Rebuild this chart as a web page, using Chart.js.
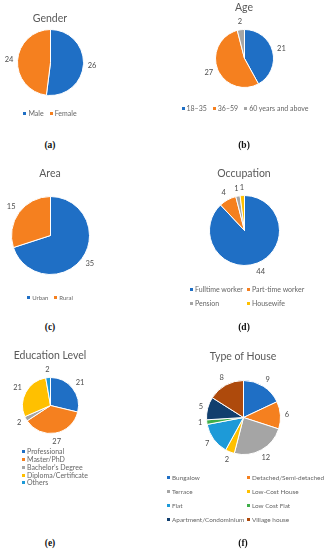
<!DOCTYPE html>
<html>
<head>
<meta charset="utf-8">
<script src="https://cdn.jsdelivr.net/npm/chart.js@4.4.0/dist/chart.umd.min.js"></script>
<style>
html, body { margin: 0; padding: 0; background: #fff; }
body { width: 330px; height: 550px; position: relative; overflow: hidden; font-family: Lato, 'Open Sans', sans-serif; }
canvas { position: absolute; }
.ttl { position: absolute; width: 160px; text-align: center; color: #595959; font-size: 10.5px; line-height: 12px; }
.cap { position: absolute; width: 40px; text-align: center; font-family: 'Liberation Serif', serif; font-weight: bold; font-size: 9.5px; line-height: 10px; color: #111; }
.lg { position: absolute; color: #666; font-size: 7px; line-height: 8px; white-space: nowrap; }
.lg i { display: inline-block; width: 3px; height: 3px; margin-right: 2px; vertical-align: middle; position: relative; top: -1px; }
.lg span { margin: 0 3px; }
</style>
</head>
<body>
<script>
// data
var genderLabels = ['Male', 'Female'];
var genderValues = [26, 24];
var ageLabels = ['18–35', '36–59', '60 years and above'];
var ageValues = [21, 27, 2];
var areaLabels = ['Urban', 'Rural'];
var areaValues = [35, 15];
var occupationLabels = ['Fulltime worker', 'Part-time worker', 'Pension', 'Housewife'];
var occupationValues = [44, 4, 1, 1];
var educationLabels = ['Professional', 'Master/PhD', 'Bachelor’s Degree', 'Diploma/Certificate', 'Others'];
var educationValues = [21, 27, 2, 21, 2];
var houseLabels = ['Bungalow', 'Detached/Semi-detached', 'Terrace', 'Low-Cost House', 'Flat', 'Low Cost Flat', 'Apartment/Condominium', 'Village house'];
var houseValues = [9, 6, 12, 2, 7, 1, 5, 8];

var palette = ['#1f6fc5', '#f5801f', '#a5a5a5', '#ffc000', '#1d9ad8', '#3fae49', '#123f6e', '#ae4a0c'];

// layout of each panel
var panels = [
	{ title: 'Gender', labels: genderLabels, values: genderValues, cap: '(a)', cx: 50, cy: 62, r: 33, ty: 18, capY: 145,
		legend: { type: 'row', x: 50, y: 113 } },
	{ title: 'Age', labels: ageLabels, values: ageValues, cap: '(b)', cx: 244, cy: 58, r: 29, ty: 7, capY: 145,
		legend: { type: 'row', x: 245, y: 108 } },
	{ title: 'Area', labels: areaLabels, values: areaValues, cap: '(c)', cx: 50, cy: 235, r: 39, ty: 173, capY: 327,
		legend: { type: 'row', x: 50, y: 298, size: 6 } },
	{ title: 'Occupation', labels: occupationLabels, values: occupationValues, cap: '(d)', cx: 244, cy: 230, r: 35, ty: 173, capY: 327,
		legend: { type: 'grid', cols: [191, 248], rows: [289, 303] } },
	{ title: 'Education Level', labels: educationLabels, values: educationValues, cap: '(e)', cx: 50, cy: 405, r: 28, ty: 355, capY: 543,
		legend: { type: 'grid', cols: [23], rows: [451, 459, 467, 475, 482] } },
	{ title: 'Type of House', labels: houseLabels, values: houseValues, cap: '(f)', cx: 243, cy: 417, r: 37, ty: 356, capY: 543,
		legend: { type: 'grid', cols: [168, 248], rows: [478, 492, 506, 520], size: 6.4 } }
];

// value labels outside each slice
var valueLabels = {
	id: 'valueLabels',
	afterDatasetsDraw: function (chart) {
		var ctx = chart.ctx;
		var meta = chart.getDatasetMeta(0);
		var values = chart.data.datasets[0].data;
		ctx.save();
		ctx.font = '7.5px Lato';
		ctx.fillStyle = '#4d4d4d';
		ctx.textAlign = 'center';
		ctx.textBaseline = 'middle';
		meta.data.forEach(function (arc, i) {
			var p = arc.getProps(['x', 'y', 'startAngle', 'endAngle', 'outerRadius'], true);
			var mid = (p.startAngle + p.endAngle) / 2;
			var txt = String(values[i]);
			var w = ctx.measureText(txt).width;
			var d = p.outerRadius + 4 + Math.abs(Math.cos(mid)) * w / 2 + Math.abs(Math.sin(mid)) * 3.5;
			ctx.fillText(txt, p.x + Math.cos(mid) * d, p.y + Math.sin(mid) * d);
		});
		ctx.restore();
	}
};

function addDiv(cls, html, left, top) {
	var d = document.createElement('div');
	d.className = cls;
	d.innerHTML = html;
	d.style.left = left + 'px';
	d.style.top = top + 'px';
	document.body.appendChild(d);
	return d;
}

panels.forEach(function (p) {
	var pad = 24;
	var size = 2 * p.r + 1 + 2 * pad;
	var canvas = document.createElement('canvas');
	canvas.width = size;
	canvas.height = size;
	canvas.style.left = (p.cx - size / 2) + 'px';
	canvas.style.top = (p.cy - size / 2) + 'px';
	document.body.appendChild(canvas);

	new Chart(canvas, {
		type: 'pie',
		data: {
			labels: p.labels,
			datasets: [{
				data: p.values,
				backgroundColor: palette.slice(0, p.values.length),
				borderColor: '#fff',
				borderWidth: 1,
				hoverOffset: 0
			}]
		},
		options: {
			responsive: false,
			animation: false,
			layout: { padding: pad },
			plugins: { legend: { display: false }, tooltip: { enabled: false } }
		},
		plugins: [valueLabels]
	});

	addDiv('ttl', p.title, p.cx - 80, p.ty - 6);
	addDiv('cap', p.cap, p.cx - 20, p.capY - 5);

	var lg = p.legend;
	if (lg.type === 'row') {
		var html = p.labels.map(function (l, i) {
			return '<span><i style="background:' + palette[i] + '"></i>' + l + '</span>';
		}).join('');
		var d = addDiv('lg', html, lg.x - 80, lg.y - 4);
		d.style.width = '160px';
		d.style.textAlign = 'center';
		if (lg.size) d.style.fontSize = lg.size + 'px';
	} else {
		p.labels.forEach(function (l, i) {
			var col = i % lg.cols.length;
			var row = Math.floor(i / lg.cols.length);
			var d = addDiv('lg', '<i style="background:' + palette[i] + '"></i>' + l, lg.cols[col] - 1, lg.rows[row] - 4);
			if (lg.size) d.style.fontSize = lg.size + 'px';
		});
	}
});
</script>
</body>
</html>
